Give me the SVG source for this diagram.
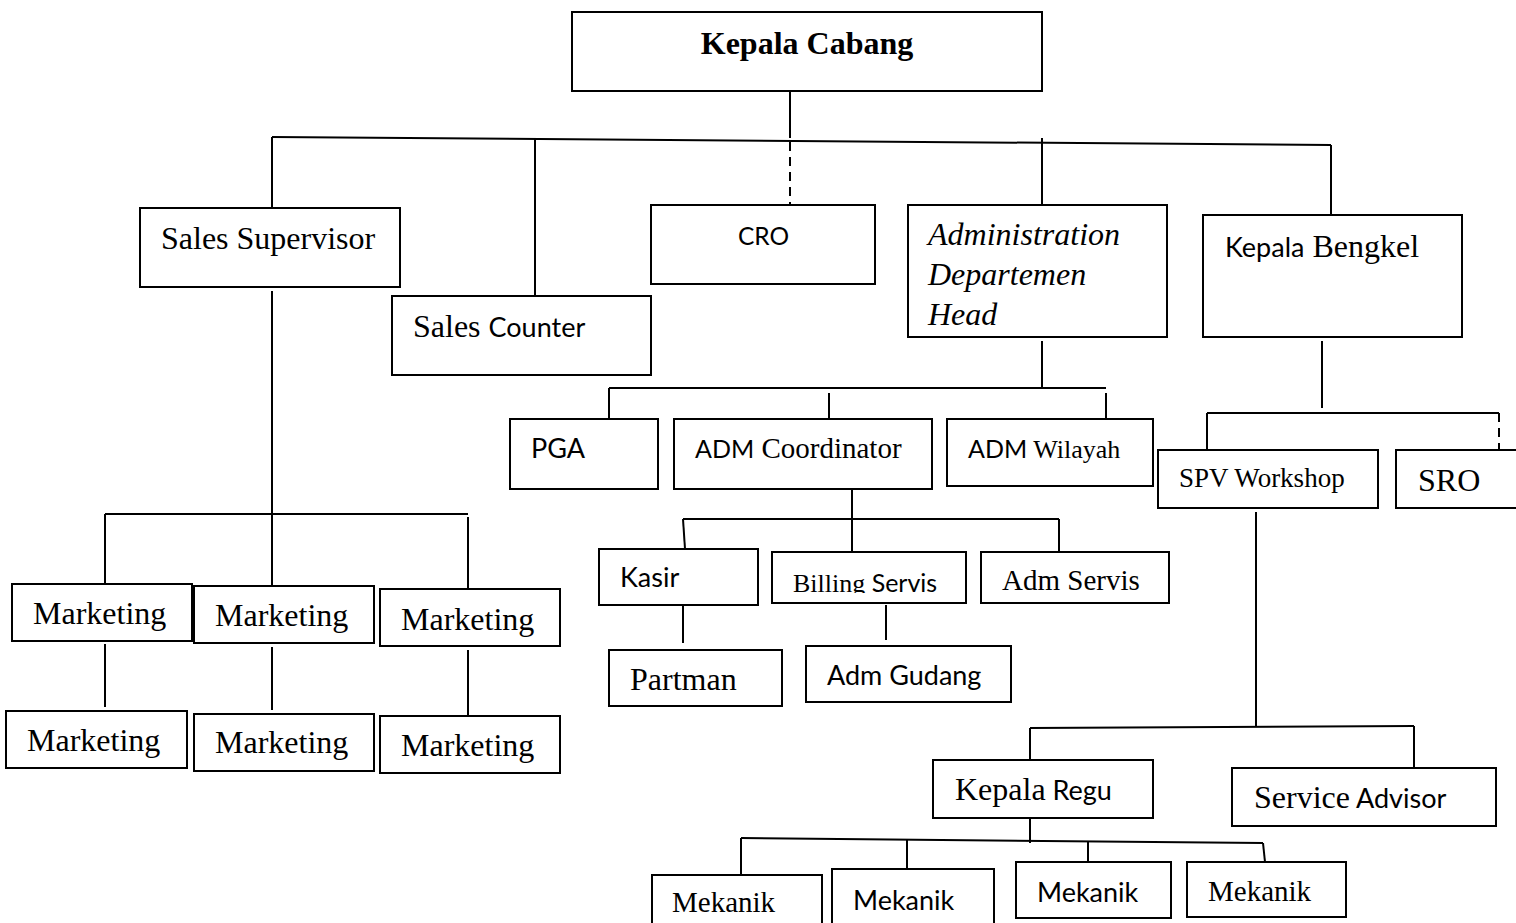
<svg xmlns="http://www.w3.org/2000/svg" width="1516" height="923" viewBox="0 0 1516 923">
<style>
.box{fill:#fff;stroke:#000;stroke-width:2}
.ln{fill:none;stroke:#000;stroke-width:2}
.dash{fill:none;stroke:#000;stroke-width:2;stroke-dasharray:9 6}
text{fill:#000}
.s{font-family:"Liberation Serif","Times New Roman",serif;font-size:32px}
.n{font-family:Lato,"Noto Sans",sans-serif;font-size:27px}
.b{font-weight:bold}
.i{font-style:italic}
</style>
<defs>
<clipPath id="billClip"><rect x="772" y="552" width="194" height="41"/></clipPath>
</defs>
<rect width="1516" height="923" fill="#fff"/>
<g id="connectors">
<path class="ln" d="M790 91V138"/>
<path class="ln" d="M272 137L1331 145"/>
<path class="ln" d="M272 137V208"/>
<path class="ln" d="M535 138V296"/>
<path class="dash" d="M790 142V205"/>
<path class="ln" d="M1042 138V205"/>
<path class="ln" d="M1331 145V215"/>
<path class="ln" d="M272 291V514"/>
<path class="ln" d="M105 514H468"/>
<path class="ln" d="M105 514V585"/>
<path class="ln" d="M272 514V586"/>
<path class="ln" d="M468 517V589"/>
<path class="ln" d="M105 644V707"/>
<path class="ln" d="M272 647V710"/>
<path class="ln" d="M468 650V716"/>
<path class="ln" d="M1042 341V388"/>
<path class="ln" d="M609 388H1106"/>
<path class="ln" d="M609 388V419"/>
<path class="ln" d="M829 393V423"/>
<path class="ln" d="M1106 393V419"/>
<path class="ln" d="M852 486V552"/>
<path class="ln" d="M683 519H1059"/>
<path class="ln" d="M683 519L685 549"/>
<path class="ln" d="M1059 519V552"/>
<path class="ln" d="M683 605V643"/>
<path class="ln" d="M886 605V640"/>
<path class="ln" d="M1322 341V408"/>
<path class="ln" d="M1207 413H1499"/>
<path class="ln" d="M1207 413V450"/>
<path class="dash" d="M1499 413V450"/>
<path class="ln" d="M1256 512V727"/>
<path class="ln" d="M1030 728L1414 726"/>
<path class="ln" d="M1030 728V760"/>
<path class="ln" d="M1414 726V768"/>
<path class="ln" d="M1030 818V843"/>
<path class="ln" d="M741 838L1263 843"/>
<path class="ln" d="M741 838V875"/>
<path class="ln" d="M907 840V869"/>
<path class="ln" d="M1088 842V862"/>
<path class="ln" d="M1263 843L1265 862"/>
</g>
<g id="kepala-cabang"><rect class="box" x="572" y="12" width="470" height="79"/><text class="s b" x="807" y="54" text-anchor="middle">Kepala Cabang</text></g>
<g id="sales-supervisor"><rect class="box" x="140" y="208" width="260" height="79"/><text class="s" x="161" y="249">Sales Supervisor</text></g>
<g id="sales-counter"><rect class="box" x="392" y="296" width="259" height="79"/><text x="413" y="337"><tspan class="s">Sales </tspan><tspan class="n">Counter</tspan></text></g>
<g id="cro"><rect class="box" x="651" y="205" width="224" height="79"/><text class="n" style="font-size:24.5px" x="738" y="245">CRO</text></g>
<g id="admin-head"><rect class="box" x="908" y="205" width="259" height="132"/><text class="s i" x="928" y="245">Administration</text><text class="s i" x="928" y="285">Departemen</text><text class="s i" x="928" y="325">Head</text></g>
<g id="kepala-bengkel"><rect class="box" x="1203" y="215" width="259" height="122"/><text x="1225" y="257"><tspan class="n">Kepala</tspan><tspan class="s"> Bengkel</tspan></text></g>
<g id="pga"><rect class="box" x="510" y="419" width="148" height="70"/><text class="n" x="531" y="458">PGA</text></g>
<g id="adm-coordinator"><rect class="box" x="674" y="419" width="258" height="70"/><text x="695" y="458"><tspan class="n" style="font-size:25px">ADM</tspan><tspan class="s" style="font-size:29px"> Coordinator</tspan></text></g>
<g id="adm-wilayah"><rect class="box" x="947" y="419" width="206" height="67"/><text x="968" y="458"><tspan class="n" style="font-size:25px">ADM</tspan><tspan class="s" style="font-size:26px"> Wilayah</tspan></text></g>
<g id="kasir"><rect class="box" x="599" y="549" width="159" height="56"/><text class="n" x="620" y="587">Kasir</text></g>
<g id="billing-servis"><rect class="box" x="772" y="552" width="194" height="51"/><text x="793" y="592" clip-path="url(#billClip)"><tspan class="s" style="font-size:26px">Billing</tspan><tspan class="n" style="font-size:25px"> Servis</tspan></text></g>
<g id="adm-servis"><rect class="box" x="981" y="552" width="188" height="51"/><text class="s" style="font-size:29px" x="1002" y="590">Adm Servis</text></g>
<g id="partman"><rect class="box" x="609" y="650" width="173" height="56"/><text class="s" x="630" y="690">Partman</text></g>
<g id="adm-gudang"><rect class="box" x="806" y="646" width="205" height="56"/><text class="n" x="827" y="685">Adm Gudang</text></g>
<g id="marketing-1"><rect class="box" x="12" y="584" width="180" height="57"/><text class="s" x="33" y="624">Marketing</text></g>
<g id="marketing-2"><rect class="box" x="194" y="586" width="180" height="57"/><text class="s" x="215" y="626">Marketing</text></g>
<g id="marketing-3"><rect class="box" x="380" y="589" width="180" height="57"/><text class="s" x="401" y="630">Marketing</text></g>
<g id="marketing-4"><rect class="box" x="6" y="711" width="181" height="57"/><text class="s" x="27" y="751">Marketing</text></g>
<g id="marketing-5"><rect class="box" x="194" y="714" width="180" height="57"/><text class="s" x="215" y="753">Marketing</text></g>
<g id="marketing-6"><rect class="box" x="380" y="716" width="180" height="57"/><text class="s" x="401" y="756">Marketing</text></g>
<g id="spv-workshop"><rect class="box" x="1158" y="450" width="220" height="58"/><text class="s" style="font-size:27px" x="1179" y="487">SPV Workshop</text></g>
<g id="sro"><rect class="box" x="1396" y="450" width="130" height="58"/><text class="s" x="1418" y="491">SRO</text></g>
<g id="kepala-regu"><rect class="box" x="933" y="760" width="220" height="58"/><text x="955" y="800"><tspan class="s">Kepala</tspan><tspan class="n"> Regu</tspan></text></g>
<g id="service-advisor"><rect class="box" x="1232" y="768" width="264" height="58"/><text x="1254" y="808"><tspan class="s">Service</tspan><tspan class="n"> Advisor</tspan></text></g>
<g id="mekanik-1"><rect class="box" x="652" y="875" width="170" height="60"/><text class="s" style="font-size:29px" x="672" y="912">Mekanik</text></g>
<g id="mekanik-2"><rect class="box" x="832" y="869" width="162" height="66"/><text class="n" x="853" y="910">Mekanik</text></g>
<g id="mekanik-3"><rect class="box" x="1016" y="862" width="155" height="56"/><text class="n" x="1037" y="902">Mekanik</text></g>
<g id="mekanik-4"><rect class="box" x="1187" y="862" width="159" height="55"/><text class="s" style="font-size:29px" x="1208" y="901">Mekanik</text></g>
</svg>
